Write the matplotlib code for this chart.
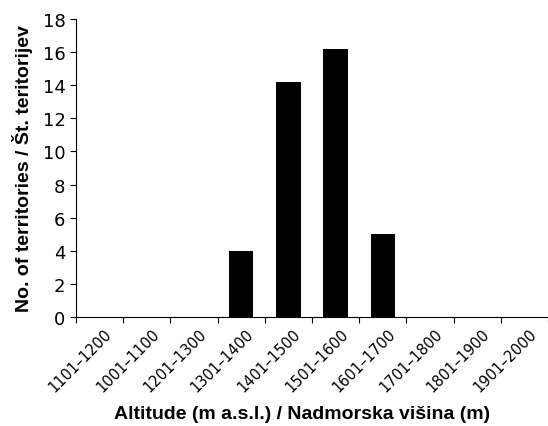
import numpy as np
import matplotlib.pyplot as plt

categories = ["1101–1200", "1001–1100", "1201–1300", "1301–1400", "1401–1500",
              "1501–1600", "1601–1700", "1701–1800", "1801–1900", "1901–2000"]
territories = [0, 0, 0, 4, 14.2, 16.2, 5, 0, 0, 0]

plt.rcParams['font.family'] = ['Liberation Sans', 'DejaVu Sans']

fig = plt.figure(figsize=(5.48, 4.27), dpi=100)
ax = fig.add_axes([76 / 548, 1 - 318 / 427, 472 / 548, 298 / 427])

x = np.arange(len(categories))
ax.bar(x, territories, width=0.52, color="black")

ax.set_xlim(-0.5, 9.33)
ax.set_ylim(0, 18)
ax.set_yticks(np.arange(0, 19, 2))
ax.set_yticklabels([str(v) for v in range(0, 19, 2)], family="DejaVu Sans", fontsize=13)
ax.tick_params(axis="y", length=4, direction="out")

# ticks between the categories, labels centred on each category
ax.set_xticks(np.arange(len(categories) + 1) - 0.5)
ax.set_xticklabels([])
ax.set_xticks(x + 0.1, minor=True)
ax.set_xticklabels(categories, minor=True, rotation=45, ha="right",
                   rotation_mode="anchor", fontsize=10.5, family="DejaVu Sans")
ax.tick_params(axis="x", which="major", length=4, direction="out")
ax.tick_params(axis="x", which="minor", length=0, pad=6)

for s in ["top", "right"]:
    ax.spines[s].set_visible(False)

ax.set_ylabel("No. of territories / Št. teritorijev", fontsize=14, fontweight="bold")
ax.yaxis.set_label_coords(-0.092, 0.5)
ax.set_xlabel("Altitude (m a.s.l.) / Nadmorska višina (m)", fontsize=14, fontweight="bold")
ax.xaxis.set_label_coords(0.479, -0.295)

fig.savefig("out.png", dpi=100)
